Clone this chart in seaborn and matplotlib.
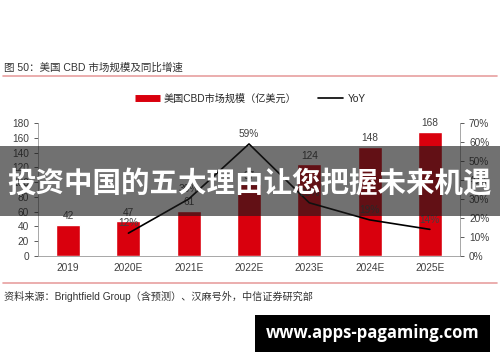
import numpy as np
import matplotlib
matplotlib.use('Agg')
import matplotlib.pyplot as plt
import seaborn as sns
from matplotlib.lines import Line2D
from matplotlib.patches import Rectangle

years = ['2019', '2020E', '2021E', '2022E', '2023E', '2024E', '2025E']
market_size = [42, 47, 61, 97, 124, 148, 168]
yoy_years = ['2020E', '2021E', '2022E', '2023E', '2024E', '2025E']
yoy = [12, 30, 59, 28, 19, 14]

sns.set_style('white')
plt.rcParams['font.family'] = ['Liberation Sans', 'Noto Sans CJK SC', 'DejaVu Sans']

red = '#d9000d'
grey_txt = '#404040'

fig = plt.figure(figsize=(5, 3.62), dpi=100)
ax = fig.add_axes([0.076, 0.293, 0.844, 0.367])

sns.barplot(x=years, y=market_size, color=red, width=0.4, ax=ax, saturation=1)
ax.set_xlim(-0.5, 6.5)
ax.set_ylim(0, 180)
ax.set_yticks(range(0, 181, 20))
ax.set_xlabel('')
ax.set_ylabel('')
ax.tick_params(axis='both', labelsize=7.3, colors=grey_txt, length=3, direction='out', width=0.6)
ax.tick_params(axis='x', length=0, pad=5)
for s in ['top', 'right']:
    ax.spines[s].set_visible(False)
for s in ['left', 'bottom']:
    ax.spines[s].set_color('#999999')
    ax.spines[s].set_linewidth(0.6)
ax.set_xticks(np.arange(-0.5, 7, 1), minor=True)
ax.tick_params(axis='x', which='minor', length=3, color='#999999', width=0.6)

for i, v in enumerate(market_size):
    ax.text(i, v + 5, str(v), ha='center', va='bottom', fontsize=7.3, color=grey_txt)

ax2 = ax.twinx()
xpos = [years.index(y) for y in yoy_years]
sns.lineplot(x=xpos, y=yoy, color='black', linewidth=1.2, ax=ax2)
ax2.set_ylim(0, 70)
ax2.set_yticks(range(0, 71, 10))
ax2.set_yticklabels([f'{t}%' for t in range(0, 71, 10)])
ax2.tick_params(axis='y', labelsize=7.3, colors=grey_txt, length=3, width=0.6)
for s in ['top', 'left', 'bottom']:
    ax2.spines[s].set_visible(False)
ax2.spines['right'].set_color('#999999')
ax2.spines['right'].set_linewidth(0.6)
for x, v in zip(xpos, yoy):
    ax2.text(x, v + 2.5, f'{v}%', ha='center', va='bottom', fontsize=7.3, color=grey_txt)

# title and rules
fig.text(0.008, 0.812, '图 50：美国 CBD 市场规模及同比增速', fontsize=7.6, color='#333333', va='center')
fig.add_artist(Line2D([0.006, 0.994], [0.79, 0.79], color='#e8a0a0', linewidth=1.2))
fig.add_artist(Line2D([0.006, 0.994], [0.218, 0.218], color='#e8a0a0', linewidth=1.2))
fig.text(0.008, 0.18, '资料来源：Brightfield Group（含预测）、汉麻号外，中信证券研究部',
         fontsize=7.3, color='#333333', va='center')

# legend
handles = [Line2D([], [], color=red, linewidth=5, solid_capstyle='butt'),
           Line2D([], [], color='black', linewidth=1.2)]
fig.legend(handles, ['美国CBD市场规模（亿美元）', 'YoY'], loc='center',
           bbox_to_anchor=(0.5, 0.728), ncol=2, frameon=False, fontsize=7.3,
           handlelength=2.5, columnspacing=2.1, handletextpad=0.4)

# overlay banner
fig.add_artist(Rectangle((0, 0.403), 1, 0.193, transform=fig.transFigure,
                         facecolor='#1a1a1a', alpha=0.62, edgecolor='none'))
fig.text(0.5, 0.49, '投资中国的五大理由让您把握未来机遇', fontsize=20.5, fontweight='bold',
         color='white', ha='center', va='center', family=['Noto Sans CJK SC'])

# watermark box
fig.add_artist(Rectangle((0.51, 0.028), 0.47, 0.102, transform=fig.transFigure,
                         facecolor='black', edgecolor='none'))
fig.text(0.745, 0.079, 'www.apps-pagaming.com', fontsize=12, fontweight='bold',
         color='white', ha='center', va='center', family=['Open Sans', 'DejaVu Sans'])

fig.savefig('out.png', dpi=100, facecolor='white')
